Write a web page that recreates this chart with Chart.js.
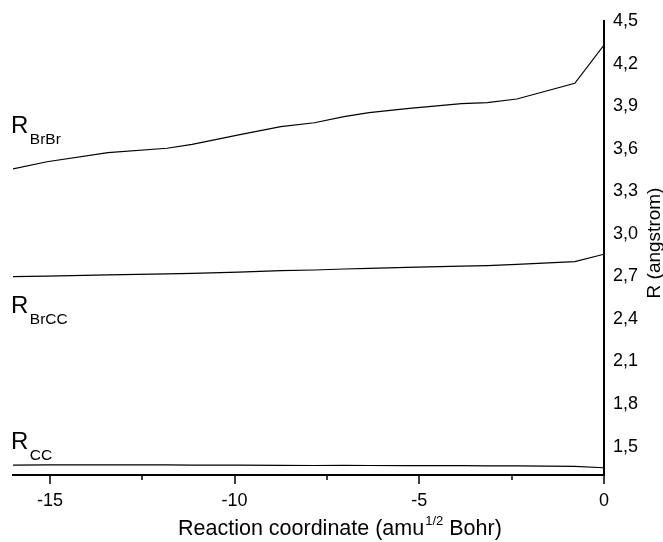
<!DOCTYPE html>
<html>
<head>
<meta charset="utf-8">
<script src="https://cdn.jsdelivr.net/npm/chart.js@4.4.0/dist/chart.umd.min.js"></script>
<style>
  html, body { margin: 0; padding: 0; background: #fff; }
</style>
</head>
<body>
<canvas id="bondChart" width="663" height="542"></canvas>
<script>
// reaction coordinate (amu^1/2 Bohr) of the IRC points
const reactionCoord = [-16, -15.08, -13.43, -11.83, -11.15, -9.89, -8.75, -7.84, -7.04, -6.36, -5.34, -3.86, -3.16, -2.36, -0.79, 0];
// bond lengths in angstrom
const rBrBr = [3.457, 3.508, 3.572, 3.603, 3.631, 3.697, 3.755, 3.783, 3.826, 3.854, 3.882, 3.917, 3.924, 3.950, 4.061, 4.330];
const rBrCC = [2.698, 2.702, 2.710, 2.718, 2.721, 2.730, 2.740, 2.745, 2.752, 2.757, 2.763, 2.772, 2.776, 2.785, 2.804, 2.856];
const rCC = [1.370, 1.371, 1.372, 1.371, 1.370, 1.369, 1.368, 1.367, 1.368, 1.367, 1.366, 1.366, 1.365, 1.364, 1.361, 1.351];

const xMajorTicks = [-15, -10, -5, 0];
const xMinorTicks = [-12.5, -7.5, -2.5];
const yTicks = [1.5, 1.8, 2.1, 2.4, 2.7, 3.0, 3.3, 3.6, 3.9, 4.2, 4.5];

const FONT = "'Liberation Sans', Arial, sans-serif";

function toPoints(ys) {
  return reactionCoord.map((x, i) => ({ x: x, y: ys[i] }));
}

function lineSet(label, ys) {
  return {
    label: label,
    data: toPoints(ys),
    borderColor: '#000',
    borderWidth: 1.2,
    pointRadius: 0,
    tension: 0,
    fill: false,
  };
}

// curve names drawn at the left, R baseline given in angstrom
const curveLabels = [
  { sub: 'BrBr', y: 3.709 },
  { sub: 'BrCC', y: 2.440 },
  { sub: 'CC', y: 1.484 },
];

const decorations = {
  id: 'decorations',
  afterDraw(chart) {
    const { ctx, chartArea, scales } = chart;
    const xs = scales.x, ys = scales.y;
    ctx.save();

    // x ticks, major and minor, pointing down
    ctx.strokeStyle = '#000';
    ctx.lineWidth = 1.5;
    const tick = (v, len) => {
      const px = Math.round(xs.getPixelForValue(v));
      ctx.beginPath();
      ctx.moveTo(px, chartArea.bottom);
      ctx.lineTo(px, chartArea.bottom + len);
      ctx.stroke();
    };
    xMajorTicks.forEach(v => tick(v, 9));
    xMinorTicks.forEach(v => tick(v, 5));

    ctx.fillStyle = '#000';
    ctx.textBaseline = 'alphabetic';

    // x title with superscript
    let tx = chartArea.left + 165;
    const ty = chart.height - 7;
    ctx.textAlign = 'left';
    ctx.font = `21.5px ${FONT}`;
    ctx.fillText('Reaction coordinate (amu', tx, ty);
    tx += ctx.measureText('Reaction coordinate (amu').width + 1;
    ctx.font = `13px ${FONT}`;
    ctx.fillText('1/2', tx, ty - 10);
    tx += ctx.measureText('1/2').width;
    ctx.font = `21.5px ${FONT}`;
    ctx.fillText(' Bohr)', tx, ty);

    // y title, reading upward
    ctx.save();
    ctx.translate(chartArea.right + 56, (chartArea.top + chartArea.bottom) / 2 - 5);
    ctx.rotate(-Math.PI / 2);
    ctx.textAlign = 'center';
    ctx.font = `19px ${FONT}`;
    ctx.fillText('R (angstrom)', 0, 0);
    ctx.restore();

    // curve labels
    curveLabels.forEach(l => {
      const py = ys.getPixelForValue(l.y);
      const lx = chartArea.left - 2;
      ctx.textAlign = 'left';
      ctx.font = `24px ${FONT}`;
      ctx.fillText('R', lx, py);
      const w = ctx.measureText('R').width;
      ctx.font = `15.5px ${FONT}`;
      ctx.fillText(l.sub, lx + w + 1.5, py + 11);
    });

    ctx.restore();
  }
};

const bc = document.getElementById('bondChart');
new Chart(bc, {
  type: 'line',
  data: {
    datasets: [
      lineSet('R BrBr', rBrBr),
      lineSet('R BrCC', rBrCC),
      lineSet('R CC', rCC),
    ]
  },
  plugins: [decorations],
  options: {
    responsive: false,
    animation: false,
    events: [],
    devicePixelRatio: 1,
    layout: {
      padding: { left: 13, top: 21, right: 0, bottom: 0 }
    },
    plugins: {
      legend: { display: false },
      tooltip: { enabled: false },
    },
    scales: {
      x: {
        type: 'linear',
        min: -16,
        max: 0,
        afterBuildTicks: (scale) => {
          scale.ticks = xMajorTicks.map(v => ({ value: v }));
        },
        afterFit: (scale) => { scale.height = 67; },
        ticks: {
          color: '#000',
          font: { family: FONT, size: 18 },
          padding: 15,
          maxRotation: 0,
          callback: (value) => String(value),
        },
        grid: { display: false, drawTicks: false },
        border: { display: true, color: '#000', width: 2 },
      },
      y: {
        type: 'linear',
        position: 'right',
        min: 1.3,
        max: 4.5,
        afterBuildTicks: (scale) => {
          scale.ticks = yTicks.map(v => ({ value: v }));
        },
        afterFit: (scale) => { scale.width = 59; },
        ticks: {
          color: '#000',
          font: { family: FONT, size: 18 },
          padding: 9,
          callback: (value) => value.toFixed(1).replace('.', ','),
        },
        grid: { display: false, drawTicks: false },
        border: { display: true, color: '#000', width: 2 },
      }
    }
  }
});
</script>
</body>
</html>
